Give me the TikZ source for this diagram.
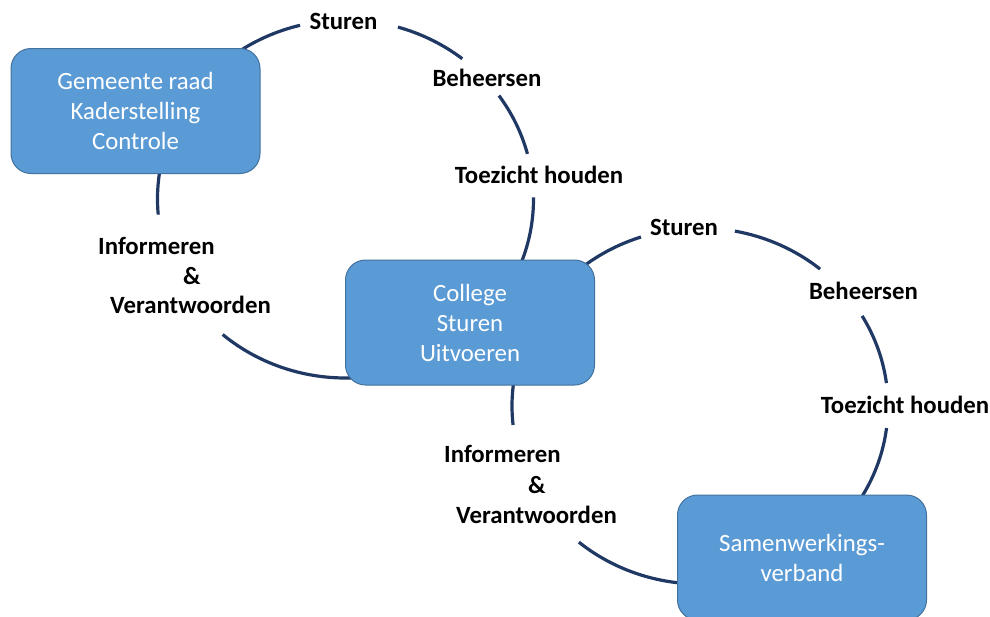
\documentclass[tikz,border=0pt]{standalone}
\usepackage{fontspec}
\setmainfont{Carlito}
\definecolor{ringblue}{HTML}{203864}
\definecolor{boxfill}{HTML}{5B9BD5}
\definecolor{boxedge}{HTML}{41719C}
\begin{document}
\begin{tikzpicture}[x=1pt,y=-1pt,
  ring/.style={draw=ringblue, line width=3.2pt},
  orgbox/.style={draw=boxedge, line width=1pt, fill=boxfill, rounded corners=20pt,
    minimum width=249pt, minimum height=125pt, align=center, text=white,
    font=\fontsize{24.8}{30}\selectfont, inner sep=0pt},
  lbl/.style={font=\fontsize{24.8}{30}\selectfont\bfseries, inner sep=0pt}]
\useasboundingbox (0,0) rectangle (990,616);
\clip (0,0) rectangle (990,616);

% centres of the two cycles
\coordinate (c1) at (345.5,199);
\coordinate (c2) at (700,406);

% upper cycle: raad - college
\draw[ring] (c1) ++(175:188 and 179) arc[start angle=175, end angle=256, x radius=188, y radius=179];
\draw[ring] (c1) ++(286.2:188 and 179) arc[start angle=286.2, end angle=308.4, x radius=188, y radius=179];
\draw[ring] (c1) ++(324.7:188 and 179) arc[start angle=324.7, end angle=345.4, x radius=188, y radius=179];
\draw[ring] (c1) ++(359.5:188 and 179) arc[start angle=359.5, end angle=490.8, x radius=188, y radius=179];

% lower cycle: college - samenwerkingsverband
\draw[ring] (c2) ++(173.9:188 and 178) arc[start angle=173.9, end angle=251.7, x radius=188, y radius=178];
\draw[ring] (c2) ++(280.7:188 and 178) arc[start angle=280.7, end angle=309.7, x radius=188, y radius=178];
\draw[ring] (c2) ++(329.6:188 and 178) arc[start angle=329.6, end angle=352.6, x radius=188, y radius=178];
\draw[ring] (c2) ++(367.1:188 and 178) arc[start angle=367.1, end angle=490.1, x radius=188, y radius=178];

% boxes
\node[orgbox] (raad) at (135.5,111) {Gemeente raad\\Kaderstelling\\Controle};
\node[orgbox] (college) at (470,322.5) {College\\Sturen\\Uitvoeren};
\node[orgbox] (verband) at (802,557.5) {Samenwerkings-\\verband};

% labels on the upper cycle
\node[lbl, anchor=base] (sturenA) at (343.5,29.5) {Sturen};
\node[lbl, anchor=base] (beheersenA) at (487,86) {Beheersen};
\node[lbl, anchor=base] (toezichtA) at (539,183.5) {Toezicht houden};
\node[lbl, anchor=base west] (infA) at (98,254) {Informeren};
\node[lbl, anchor=base west] (ampA) at (183,284) {\&};
\node[lbl, anchor=base west] (verA) at (110,313) {Verantwoorden};

% labels on the lower cycle
\node[lbl, anchor=base] (sturenB) at (684,235) {Sturen};
\node[lbl, anchor=base] (beheersenB) at (863.5,299) {Beheersen};
\node[lbl, anchor=base] (toezichtB) at (905,413) {Toezicht houden};
\node[lbl, anchor=base west] (infB) at (444,462) {Informeren};
\node[lbl, anchor=base west] (ampB) at (528,493) {\&};
\node[lbl, anchor=base west] (verB) at (456,523) {Verantwoorden};
\end{tikzpicture}
\end{document}
